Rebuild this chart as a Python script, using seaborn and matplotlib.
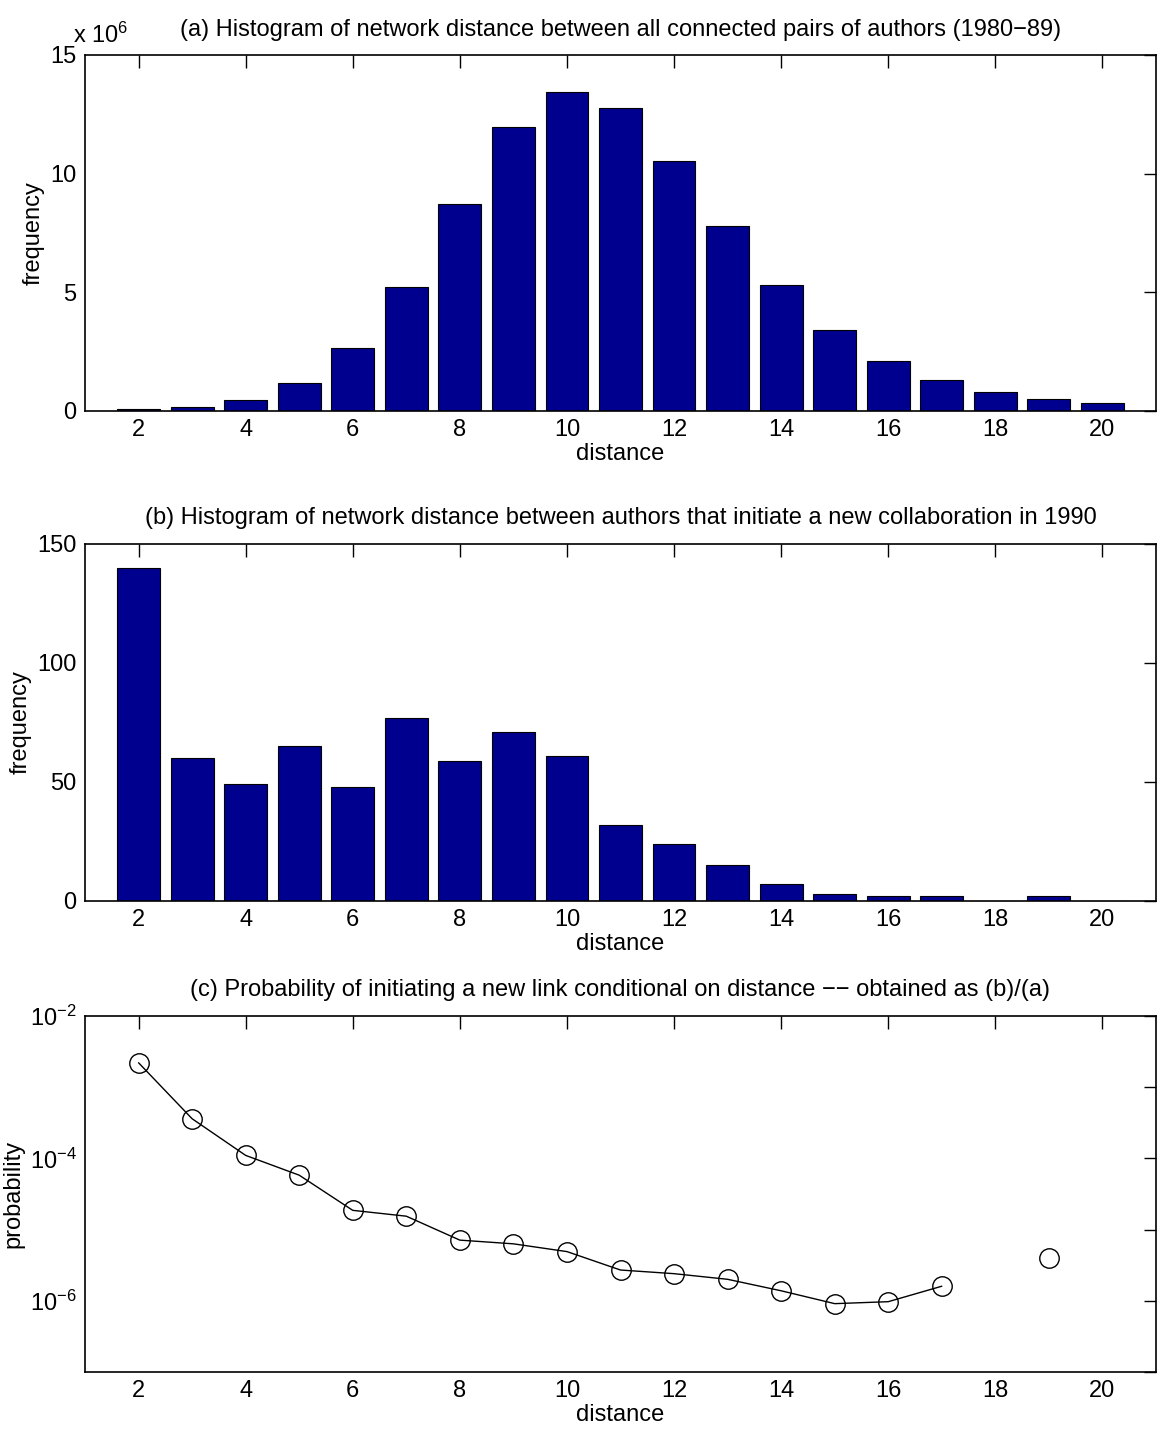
import numpy as np
import pandas as pd
import matplotlib
matplotlib.use("Agg")
import matplotlib.pyplot as plt
import matplotlib.ticker as mticker
import seaborn as sns

# ---- data ----
distance = list(range(2, 21))
freq_all_millions = [0.08, 0.17, 0.46, 1.18, 2.65, 5.22, 8.72, 11.97, 13.44, 12.77,
                     10.54, 7.80, 5.31, 3.41, 2.11, 1.31, 0.80, 0.51, 0.34]
freq_new = [140, 60, 49, 65, 48, 77, 59, 71, 61, 32, 24, 15, 7, 3, 2, 2, 0, 2, 0]
probability = [2.2e-3, 3.6e-4, 1.1e-4, 5.8e-5, 1.86e-5, 1.54e-5, 7.1e-6, 6.3e-6, 4.9e-6,
               2.7e-6, 2.4e-6, 2.0e-6, 1.38e-6, 9.1e-7, 9.7e-7, 1.6e-6, np.nan, 4.0e-6, np.nan]

titles = [
    "(a) Histogram of network distance between all connected pairs of authors (1980\u221289)",
    "(b) Histogram of network distance between authors that initiate a new collaboration in 1990",
    "(c) Probability of initiating a new link conditional on distance \u2212\u2212 obtained as (b)/(a)",
]

sns.set_theme(style="white")
plt.rcParams['font.family'] = ['Liberation Sans', 'DejaVu Sans']
plt.rcParams['mathtext.fontset'] = 'custom'
plt.rcParams['mathtext.rm'] = 'Liberation Sans'
plt.rcParams['mathtext.it'] = 'Liberation Sans'
for k in ['text.color', 'axes.labelcolor', 'xtick.color', 'ytick.color']:
    plt.rcParams[k] = 'black'
FS = 17
BAR = "#00008f"

fig = plt.figure(figsize=(11.6, 14.39), dpi=100)
left, width = 85 / 1160, (1156 - 85) / 1160
ax_a = fig.add_axes([left, 0.7144, width, 0.2474])
ax_b = fig.add_axes([left, 0.3739, width, 0.2481])
ax_c = fig.add_axes([left, 0.0466, width, 0.2474])

def style(ax):
    for s in ax.spines.values():
        s.set_color("black")
        s.set_linewidth(1.2)
    ax.tick_params(axis="both", which="both", direction="in", top=True, right=True,
                   labelsize=FS, colors="black", length=9, width=1, pad=6)
    ax.set_xlim(1.0, 21.0)
    ax.set_xticks(range(2, 21, 2))
    ax.set_xticklabels([str(v) for v in range(2, 21, 2)])
    ax.set_xlabel("distance", fontsize=FS, labelpad=1)

df_a = pd.DataFrame({"distance": distance, "freq": freq_all_millions})
sns.barplot(data=df_a, x="distance", y="freq", native_scale=True, color=BAR, saturation=1,
            edgecolor="black", linewidth=0.8, width=0.8, ax=ax_a)
style(ax_a)
ax_a.set_ylim(0, 15)
ax_a.set_yticks([0, 5, 10, 15])
ax_a.set_ylabel("frequency", fontsize=FS)
ax_a.set_title(titles[0], fontsize=FS, pad=14)
ax_a.text(-0.011, 1.034, "x 10$^{6}$", transform=ax_a.transAxes, fontsize=FS,
          ha="left", va="baseline")

df_b = pd.DataFrame({"distance": distance, "freq": freq_new})
sns.barplot(data=df_b, x="distance", y="freq", native_scale=True, color=BAR, saturation=1,
            edgecolor="black", linewidth=0.8, width=0.8, ax=ax_b)
style(ax_b)
ax_b.set_ylim(0, 150)
ax_b.set_yticks([0, 50, 100, 150])
ax_b.set_ylabel("frequency", fontsize=FS)
ax_b.set_title(titles[1], fontsize=FS, pad=14)

df_c = pd.DataFrame({"distance": distance, "prob": probability})
# split into contiguous segments separated by missing values
valid = df_c["prob"].notna()
seg = df_c["prob"].isna().cumsum()
for _, part in df_c[valid].groupby(seg[valid]):
    sns.lineplot(data=part, x="distance", y="prob", color="black", linewidth=1,
                 marker="o", markersize=14, markerfacecolor="none", markeredgecolor="black",
                 markeredgewidth=1, ax=ax_c)
ax_c.set_yscale("log")
style(ax_c)
ax_c.set_ylim(1e-7, 1e-2)
ax_c.yaxis.set_major_locator(mticker.FixedLocator([1e-7, 1e-6, 1e-5, 1e-4, 1e-3, 1e-2]))
ax_c.yaxis.set_minor_locator(mticker.NullLocator())
ax_c.yaxis.set_major_formatter(mticker.FuncFormatter(
    lambda v, p: "$10^{%d}$" % round(np.log10(v)) if round(np.log10(v)) % 2 == 0 else ""))
ax_c.set_ylabel("probability", fontsize=FS)
ax_c.set_title(titles[2], fontsize=FS, pad=14)

fig.savefig("out.png", dpi=100)
